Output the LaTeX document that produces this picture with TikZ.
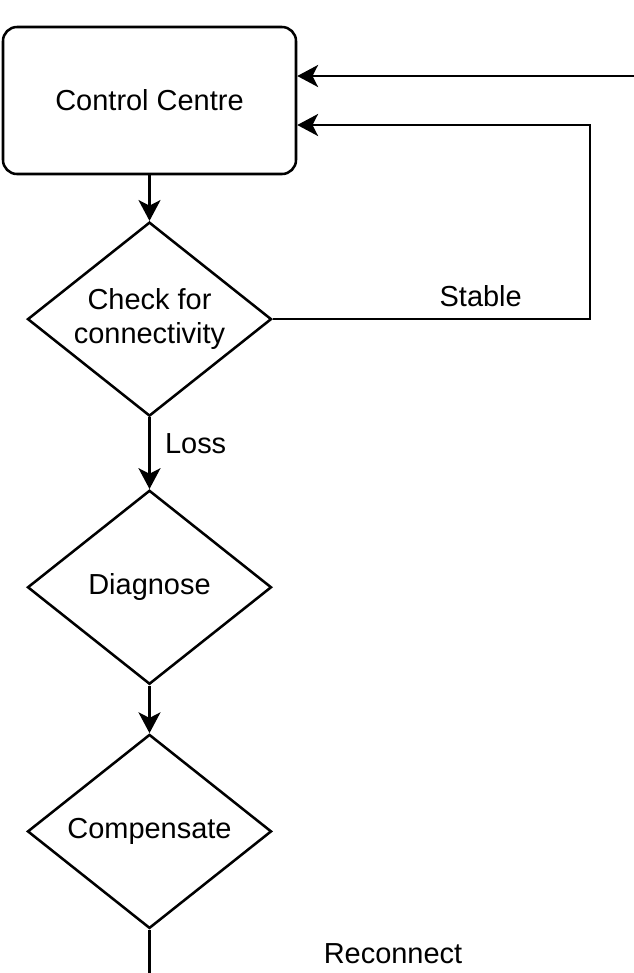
\documentclass[tikz,border=0pt]{standalone}
\usepackage{fontspec}
\setmainfont{Liberation Sans}
\usepackage{tikz}
\usetikzlibrary{shapes.geometric, arrows.meta, positioning}

\begin{document}
\begin{tikzpicture}[
  node distance=1.2cm,
  every node/.style={font=\fontsize{20.6}{24.2}\selectfont},
  ctrbox/.style={rectangle, draw, line width=1.8pt, rounded corners=0.35cm,
                 minimum width=7.325cm, minimum height=3.675cm, align=center},
  decision/.style={diamond, draw, line width=1.8pt, inner sep=0pt, aspect=1.26,
                   minimum width=6.1cm, minimum height=4.85cm, align=center},
  arr/.style={-{Stealth[length=0.52cm, width=0.55cm, inset=0.14cm]}, line width=1.8pt},
  line/.style={line width=1.8pt}
]
\useasboundingbox (0,0) rectangle (15.85,-24.325);

\node[ctrbox] (cc) at (3.7375,-2.5125) {Control Centre};
\node[decision, below=1.14cm of cc]   (chk)  {Check for\\connectivity};
\node[decision, below=1.79cm of chk] (diag) {Diagnose};
\node[decision, below=1.19cm of diag] (comp) {Compensate};

\coordinate (in1)  at ([yshift=0.6125cm]cc.east);
\coordinate (in2)  at ([yshift=-0.6125cm]cc.east);
\coordinate (rtop) at (15.85,-1.9);
\coordinate (stab) at ([xshift=7.925cm]chk.east);
\coordinate (rbot) at (comp.south |- 0,-24.4);

\draw[arr] (cc) -- (chk);
\draw[arr] (chk) -- node[pos=0.36, right=0.24cm] (lloss) {Loss} (diag);
\draw[arr] (diag) -- (comp);
\draw[line] (comp) -- (rbot);
\draw[arr] (chk.east) -- node[pos=0.656, above=0.15cm] (lstab) {Stable} (stab) |- (in2);
\draw[arr] (rtop) -- (in1);
\node (lrc) at (9.825,-23.85) {Reconnect};
\end{tikzpicture}
\end{document}
